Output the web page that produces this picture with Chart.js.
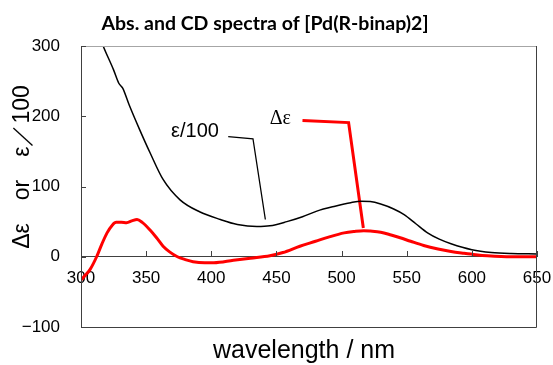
<!DOCTYPE html>
<html>
<head>
<meta charset="utf-8">
<script src="https://cdn.jsdelivr.net/npm/chart.js@4.4.1/dist/chart.umd.min.js"></script>
<style>
  body { margin: 0; background: #fff; }
</style>
</head>
<body>
<canvas id="cd-chart" width="553" height="365"></canvas>
<script>
// absorption (eps/100)
const absWl  = [300, 310, 317, 325, 329, 332, 337, 345, 353, 363, 376, 391, 407, 420, 435, 445, 458, 470, 481, 495, 507, 515, 522, 530, 540, 548, 557, 566, 575, 584, 600, 615, 630, 650];
const absVal = [380, 335, 300, 266, 247, 240, 216, 181, 148, 110, 81, 64, 53, 46, 43, 44, 50, 57, 65, 72, 77, 79, 78.5, 75, 68, 60, 47, 34, 25, 18.5, 10, 6, 4.5, 4];

// CD (delta eps)
const cdWl  = [300, 304, 307, 312, 316, 320, 324, 327, 331, 335, 339, 343, 347, 353, 358, 363, 368, 374, 380, 386, 395, 402, 417, 430, 445, 455, 468, 480, 490, 502, 510, 517, 522, 530, 538, 545, 553, 563, 574, 584, 594, 603, 612, 630, 650];
const cdVal = [-33, -25, -18, 0, 18, 34, 45, 49, 49, 48.5, 51, 53, 49, 38, 27, 15, 7, 0, -4, -7, -8.5, -8.5, -5, -2, 1.5, 6, 15, 22, 28, 34, 36, 37, 36.5, 35, 31, 27, 22, 16, 11, 7.5, 5, 3, 1.5, 0, 0];

const xTicks = [300, 350, 400, 450, 500, 550, 600, 650];
const yTicks = [-100, 0, 100, 200, 300];

// callout leaders, in data units
const epsLeaderWl  = [413, 432, 441.5];
const epsLeaderVal = [171, 168, 53];
const cdLeaderWl   = [470, 505.4, 516.7];
const cdLeaderVal  = [194, 191, 41];
const epsLabelAt = [387.5, 179];
const cdLabelAt  = [453, 196];

const chartTitle = 'Abs. and CD spectra of [Pd(R-binap)2]';
const yTitle = 'Δε　or　ε／100';
const xTitle = 'wavelength / nm';

const pts = (xs, ys) => xs.map((x, i) => ({ x, y: ys[i] }));

const decor = {
    id: 'decor',
    afterDraw(chart) {
        const { ctx, chartArea: a, scales: { x, y } } = chart;
        ctx.save();

        // frame
        ctx.lineWidth = 1;
        ctx.strokeStyle = '#a6a6a6';
        ctx.beginPath();
        ctx.moveTo(a.left, a.top + 0.5); ctx.lineTo(a.right, a.top + 0.5);
        ctx.stroke();
        ctx.strokeStyle = '#404040';
        ctx.beginPath();
        ctx.moveTo(a.left + 0.5, a.top); ctx.lineTo(a.left + 0.5, a.bottom + 0.5);
        ctx.lineTo(a.right - 0.5, a.bottom + 0.5); ctx.lineTo(a.right - 0.5, a.top);
        ctx.stroke();

        // inward tick marks
        ctx.beginPath();
        yTicks.forEach(v => {
            const py = Math.round(y.getPixelForValue(v)) + 0.5;
            ctx.moveTo(a.left, py); ctx.lineTo(a.left + 5, py);
        });
        const y0 = Math.round(y.getPixelForValue(0));
        xTicks.forEach(v => {
            const px = Math.round(x.getPixelForValue(v)) + 0.5;
            ctx.moveTo(px, y0); ctx.lineTo(px, y0 - 6);
        });
        ctx.stroke();

        ctx.fillStyle = '#000';
        ctx.textAlign = 'center';
        ctx.textBaseline = 'middle';

        ctx.font = 'bold 19.5px Lato';
        ctx.fillText(chartTitle, 265, 24);

        ctx.font = '25px "Liberation Sans"';
        ctx.textBaseline = 'alphabetic';
        ctx.fillText(xTitle, 304, 358);

        ctx.save();
        ctx.translate(23, 167);
        ctx.rotate(-Math.PI / 2);
        ctx.font = '23px "Liberation Sans"';
        ctx.textBaseline = 'middle';
        ctx.fillText(yTitle, 0, 0);
        ctx.restore();

        ctx.textBaseline = 'middle';
        ctx.font = '20px "Liberation Sans"';
        ctx.fillText('ε/100', x.getPixelForValue(epsLabelAt[0]), y.getPixelForValue(epsLabelAt[1]));
        ctx.font = '20px "Liberation Serif"';
        ctx.fillText('Δε', x.getPixelForValue(cdLabelAt[0]), y.getPixelForValue(cdLabelAt[1]));

        ctx.restore();
    }
};

const tickFont = { family: 'Liberation Sans', size: 17 };

new Chart(document.getElementById('cd-chart'), {
    type: 'line',
    data: {
        datasets: [
            {
                label: 'ε/100',
                data: pts(absWl, absVal),
                borderColor: '#000',
                borderWidth: 1.5,
                pointRadius: 0,
                cubicInterpolationMode: 'monotone',
            },
            {
                label: 'Δε',
                data: pts(cdWl, cdVal),
                borderColor: '#ff0000',
                borderWidth: 3,
                borderCapStyle: 'round',
                pointRadius: 0,
                cubicInterpolationMode: 'monotone',
            },
            {
                label: 'eps leader',
                data: pts(epsLeaderWl, epsLeaderVal),
                borderColor: '#000',
                borderWidth: 1.3,
                pointRadius: 0,
                tension: 0,
            },
            {
                label: 'cd leader',
                data: pts(cdLeaderWl, cdLeaderVal),
                borderColor: '#ff0000',
                borderWidth: 3,
                pointRadius: 0,
                tension: 0,
            }
        ]
    },
    options: {
        responsive: false,
        animation: false,
        devicePixelRatio: 1,
        layout: { padding: { left: 0, top: 46, right: 16, bottom: 38 } },
        plugins: {
            legend: { display: false },
            tooltip: { enabled: false },
            title: { display: false },
        },
        scales: {
            x: {
                type: 'linear',
                position: { y: 0 },
                min: 300, max: 650,
                afterFit: s => { s.paddingLeft = 0; s.paddingRight = 0; },
                grid: { drawOnChartArea: false, drawTicks: false },
                border: { display: true, color: '#404040', width: 1 },
                ticks: { stepSize: 50, font: tickFont, color: '#000', padding: 11, maxRotation: 0 },
            },
            y: {
                min: -100, max: 300,
                afterFit: s => { s.width = 81; },
                grid: { drawOnChartArea: false, drawTicks: false },
                border: { display: false },
                ticks: {
                    stepSize: 100, font: tickFont, color: '#000', padding: 21,
                    callback: v => v < 0 ? '−' + Math.abs(v) : v,
                },
            }
        }
    },
    plugins: [decor]
});
</script>
</body>
</html>
